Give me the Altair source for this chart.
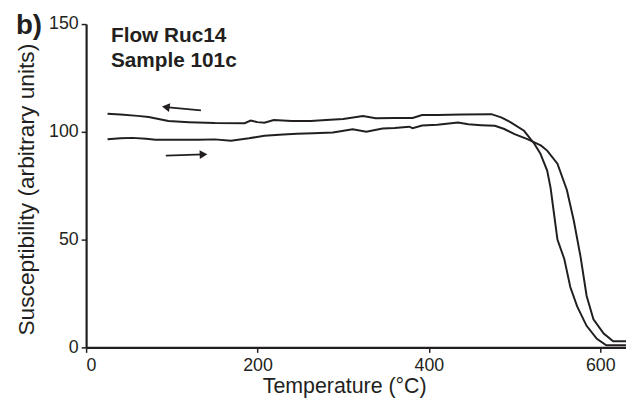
import altair as alt
import pandas as pd

# Heating curve (lower plateau, arrow to the right)
heat_t = [25, 40, 54, 70, 81, 100, 131, 150, 169, 190, 208, 230, 246, 265, 288, 311, 327, 346, 360, 377, 381, 392, 410, 434, 446, 461, 477, 488, 500, 515, 531, 538, 550, 561, 569, 577, 584, 592, 604, 615, 630]
heat_v = [96.6, 97, 97.2, 96.8, 96.3, 96.3, 96.3, 96.5, 95.9, 97, 98.2, 98.8, 99.1, 99.3, 99.7, 101.2, 100, 101.5, 101.8, 102.4, 101.7, 102.9, 103.3, 104.3, 103.5, 103.1, 102.8, 101.3, 98.9, 96.6, 93.6, 91.3, 85.2, 73, 59, 42, 24, 13, 6.4, 2.8, 2.8]

# Cooling curve (upper plateau, arrow to the left)
cool_t = [25, 40, 60, 73, 96, 120, 150, 185, 192, 200, 208, 219, 240, 262, 280, 300, 323, 338, 360, 381, 392, 410, 438, 473, 485, 496, 511, 523, 530, 538, 542, 546, 550, 558, 565, 573, 584, 596, 607, 620, 630]
cool_v = [108.4, 108, 107.4, 106.9, 105, 104.5, 104.1, 104, 105.2, 104.5, 104.2, 105.5, 105, 105, 105.5, 106, 107.3, 106.3, 106.4, 106.4, 107.8, 107.8, 108, 108.2, 106.6, 104.3, 100.5, 94.5, 90, 82, 74, 62, 50, 41, 28, 19, 10, 4, 1, 1, 1]

# Arrows: [tail_t, head_t], [tail_v, head_v]
arrow_left_t = [134, 93]
arrow_left_v = [110, 111.5]
arrow_right_t = [93, 137]
arrow_right_v = [89, 89.5]

label_lines = ["Flow Ruc14", "Sample 101c"]
label_t = [29, 29]
label_v = [141.7, 130.3]

x_ticks = [0, 200, 400, 600]
y_ticks = [0, 50, 100, 150]

FONT = "Liberation Sans"
INK = "#231f20"

rows = []
for i, (t, v) in enumerate(zip(heat_t, heat_v)):
    rows.append({"T": t, "V": v, "curve": "heating", "i": i})
for i, (t, v) in enumerate(zip(cool_t, cool_v)):
    rows.append({"T": t, "V": v, "curve": "cooling", "i": i})
df = pd.DataFrame(rows)

xs = alt.Scale(domain=[0, 630], nice=False, zero=False)
ys = alt.Scale(domain=[0, 150], nice=False)

xax = alt.Axis(values=x_ticks, title="Temperature (°C)", grid=False,
               titleX=261, titleFontSize=21.6, titlePadding=2)
yax = alt.Axis(values=y_ticks, title="Susceptibility (arbitrary units)", grid=False,
               titleY=167, titleFontSize=23, titlePadding=10)

curves = alt.Chart(df).mark_line(color=INK, strokeWidth=2, clip=True).encode(
    x=alt.X("T:Q", scale=xs, axis=xax),
    y=alt.Y("V:Q", scale=ys, axis=yax),
    detail="curve:N",
    order="i:Q",
)

arr_rows = []
for name, tt, vv in [("L", arrow_left_t, arrow_left_v), ("R", arrow_right_t, arrow_right_v)]:
    for j in range(2):
        arr_rows.append({"T": tt[j], "V": vv[j], "a": name, "j": j})
adf = pd.DataFrame(arr_rows)

shafts = alt.Chart(adf).mark_line(color=INK, strokeWidth=1.8).encode(
    x=alt.X("T:Q", scale=xs), y=alt.Y("V:Q", scale=ys), detail="a:N", order="j:Q"
)
heads_l = alt.Chart(adf[(adf.a == "L") & (adf.j == 1)]).mark_point(
    shape="triangle-left", filled=True, color=INK, size=80, opacity=1, angle=8
).encode(x=alt.X("T:Q", scale=xs), y=alt.Y("V:Q", scale=ys))
heads_r = alt.Chart(adf[(adf.a == "R") & (adf.j == 1)]).mark_point(
    shape="triangle-right", filled=True, color=INK, size=80, opacity=1, angle=358
).encode(x=alt.X("T:Q", scale=xs), y=alt.Y("V:Q", scale=ys))

ldf = pd.DataFrame({"T": label_t, "V": label_v, "txt": label_lines})
labels = alt.Chart(ldf).mark_text(
    align="left", baseline="alphabetic", font=FONT, fontSize=21, fontWeight="bold", color=INK
).encode(x=alt.X("T:Q", scale=xs), y=alt.Y("V:Q", scale=ys), text="txt:N")

panel = alt.Chart(pd.DataFrame({"t": ["b)"]})).mark_text(
    align="left", baseline="alphabetic", font=FONT, fontSize=28, fontWeight="bold", color=INK
).encode(x=alt.value(-71), y=alt.value(10), text="t:N")

chart = alt.layer(curves, shafts, heads_l, heads_r, labels, panel).properties(
    width=546, height=327,
    autosize=alt.AutoSizeParams(type="none"),
    padding={"left": 79, "top": 14, "right": 0, "bottom": 55},
    background="white",
).configure_view(stroke=None).configure_axis(
    domainColor=INK, domainWidth=2.2, tickColor=INK, tickWidth=1.5, tickSize=5,
    labelFont=FONT, labelFontSize=18, labelColor=INK, labelPadding=3,
    titleFont=FONT, titleFontWeight="normal", titleColor=INK,
).configure_axisX(labelPadding=4)

chart.save("out.html", embed_options={"renderer": "svg", "actions": False})
